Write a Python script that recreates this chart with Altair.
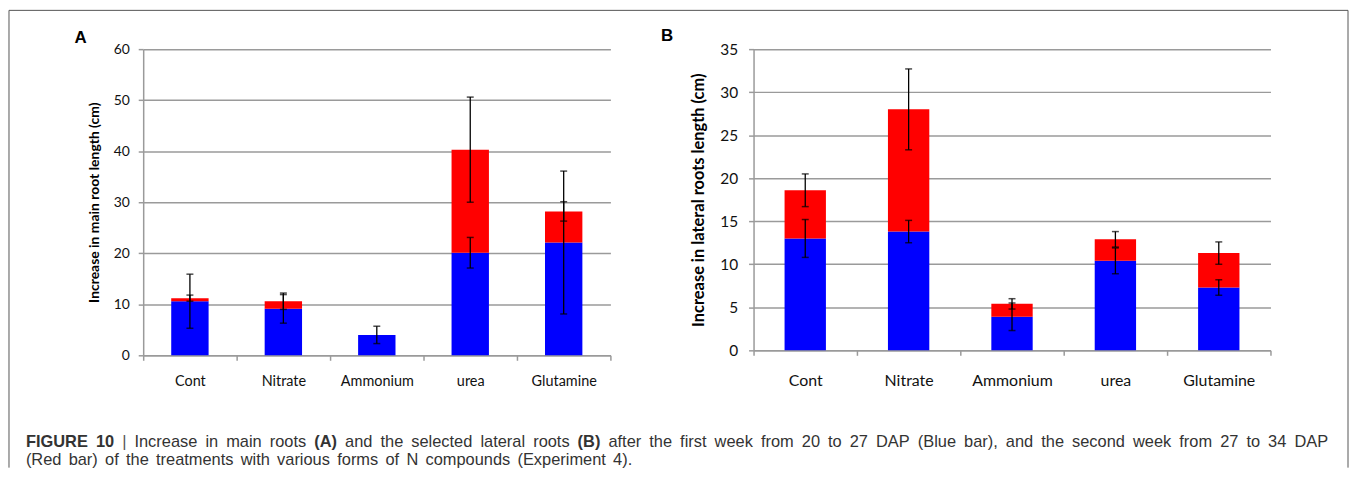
import altair as alt
import pandas as pd

# ---------------- data ----------------
categories = ["Cont", "Nitrate", "Ammonium", "urea", "Glutamine"]
series_names = ["Week 1 (20-27 DAP)", "Week 2 (27-34 DAP)"]

# Panel A: increase in main root length (cm)
a_week1 = [10.6, 9.1, 4.0, 20.1, 22.1]
a_week2 = [0.6, 1.5, 0.0, 20.2, 6.1]
a_week1_err = [5.3, 2.8, 1.7, 3.0, 14.0]
a_week2_err = [0.6, 1.6, 0.0, 10.3, 1.9]

# Panel B: increase in lateral roots length (cm)
b_week1 = [13.0, 13.8, 3.9, 10.4, 7.3]
b_week2 = [5.6, 14.2, 1.5, 2.5, 4.0]
b_week1_err = [2.2, 1.3, 1.6, 1.5, 0.9]
b_week2_err = [1.9, 4.7, 0.6, 0.9, 1.3]

a_title = "Increase in main root length (cm)"
b_title = "Increase in lateral roots length (cm)"

caption_line1 = ("FIGURE 10 | Increase in main roots (A) and the selected lateral roots (B) "
                 "after the first week from 20 to 27 DAP (Blue bar), and the second week "
                 "from 27 to 34 DAP")
caption_line2 = "(Red bar) of the treatments with various forms of N compounds (Experiment 4)."
caption_bold_words = ["FIGURE", "10", "(A)", "(B)"]

BLUE = "#0000FF"
RED = "#FF0000"
GRID = "#9a9a9a"
FONT = "Lato"
CAPFONT = "Liberation Sans"

# Arial / Liberation Sans advance widths (1/1000 em) used to lay out the caption words
_REG = {" ": 278, "(": 333, ")": 333, ",": 278, ".": 278, "|": 260, "-": 333}
_REG.update({d: 556 for d in "0123456789"})
_REG.update(dict(zip("ABCDEFGHIJKLMNOPQRSTUVWXYZ",
                     [667, 667, 722, 722, 667, 611, 778, 722, 278, 500, 667, 556, 833,
                      722, 778, 667, 778, 722, 667, 611, 722, 667, 944, 667, 667, 611])))
_REG.update(dict(zip("abcdefghijklmnopqrstuvwxyz",
                     [556, 556, 500, 556, 556, 278, 556, 556, 222, 222, 500, 222, 833,
                      556, 556, 556, 556, 333, 500, 278, 556, 500, 722, 500, 500, 500])))
_BOLD = dict(_REG)
_BOLD.update({"A": 722, "B": 722, "C": 722, "E": 667, "F": 611, "G": 778, "I": 278,
              "R": 722, "U": 722})


def word_width(w, bold, fs):
    table = _BOLD if bold else _REG
    return sum(table.get(ch, 556) for ch in w) * fs / 1000.0


def build_frames(w1, w2, e1, e2):
    bars, errs = [], []
    for c, v1, v2, d1, d2 in zip(categories, w1, w2, e1, e2):
        bars.append({"cat": c, "series": series_names[0], "start": 0.0, "end": v1})
        bars.append({"cat": c, "series": series_names[1], "start": v1, "end": v1 + v2})
        if d1 > 0:
            errs.append({"cat": c, "low": v1 - d1, "high": v1 + d1})
        if d2 > 0:
            errs.append({"cat": c, "low": v1 + v2 - d2, "high": v1 + v2 + d2})
    return pd.DataFrame(bars), pd.DataFrame(errs)


def one_text(txt, x, y, size, weight="normal", align="left", font=FONT, color="#000000"):
    return alt.Chart(pd.DataFrame({"t": [txt]})).mark_text(
        align=align, baseline="alphabetic", font=font, fontSize=size,
        fontWeight=weight, color=color,
    ).encode(text="t:N", x=alt.value(x), y=alt.value(y))


def text_line(line, x0, x1, y, fs, color):
    """Lay the words of one caption line out from x0 to x1 (justified)."""
    words = line.split(" ")
    bold = [w in caption_bold_words for w in words]
    widths = [word_width(w, b, fs) for w, b in zip(words, bold)]
    gap = (x1 - x0 - sum(widths)) / (len(words) - 1)
    out, x = [], x0
    for w, b, wd in zip(words, bold, widths):
        col = "#555555" if w == "|" else color
        out.append(one_text(w, round(x, 1), y, fs, "bold" if b else "normal",
                            font=CAPFONT, color=col))
        x += wd + gap
    return out


def panel(w1, w2, e1, e2, ymax, step, ytitle, width, height,
          tick_fs, xlab_fs, title_fs, xlab_pad, ylab_pad, title_x):
    bars_df, err_df = build_frames(w1, w2, e1, e2)
    x_enc = alt.X(
        "cat:N", sort=categories,
        scale=alt.Scale(paddingInner=0, paddingOuter=0),
        axis=alt.Axis(title=None, labelAngle=0, tickBand="extent", grid=False,
                      labelFontSize=xlab_fs, labelPadding=xlab_pad, labelFont=FONT),
    )
    y_scale = alt.Scale(domain=[0, ymax], nice=False)
    y_axis = alt.Axis(
        values=list(range(0, ymax + 1, step)), grid=True, title=ytitle,
        titleFont=FONT, titleFontSize=title_fs, titleFontWeight="bold",
        titleColor="#000000", titleAngle=270, titleX=title_x, titleY=height / 2,
        titleAlign="center", titleBaseline="middle",
        labelFontSize=tick_fs, labelPadding=ylab_pad, labelFont=FONT,
    )
    bars = alt.Chart(bars_df).mark_bar(width=alt.RelativeBandSize(0.4)).encode(
        x=x_enc,
        y=alt.Y("start:Q", scale=y_scale, axis=y_axis),
        y2="end:Q",
        color=alt.Color("series:N", scale=alt.Scale(domain=series_names, range=[BLUE, RED]), legend=None),
    )
    rules = alt.Chart(err_df).mark_rule(color="#000000", strokeWidth=1.3).encode(
        x=alt.X("cat:N", sort=categories), y="low:Q", y2="high:Q")
    cap_lo = alt.Chart(err_df).mark_tick(color="#000000", thickness=1.5, size=7).encode(
        x=alt.X("cat:N", sort=categories), y="low:Q")
    cap_hi = alt.Chart(err_df).mark_tick(color="#000000", thickness=1.5, size=7).encode(
        x=alt.X("cat:N", sort=categories), y="high:Q")
    return [bars, rules, cap_lo, cap_hi]


a_layers = panel(a_week1, a_week2, a_week1_err, a_week2_err, 60, 10, a_title, 470, 308,
                 14, 14.5, 14, 14, 9, -49)
b_layers = panel(b_week1, b_week2, b_week1_err, b_week2_err, 35, 5, b_title, 520, 303,
                 15.5, 16, 16.5, 17, 11, -55)

# frame around the figure (three sides) and annotations, placed relative to panel A
zero = pd.DataFrame({"z": [0]})
frame_left = alt.Chart(zero).mark_rule(color="#555555", strokeWidth=1).encode(
    x=alt.value(-135), y=alt.value(-39), y2=alt.value(421))
frame_right = alt.Chart(zero).mark_rule(color="#555555", strokeWidth=1).encode(
    x=alt.value(1212), y=alt.value(-39), y2=alt.value(421))
frame_top = alt.Chart(zero).mark_rule(color="#555555", strokeWidth=1).encode(
    x=alt.value(-135), x2=alt.value(1212), y=alt.value(-39))

label_a = one_text("A", -69, -6, 17, "bold", font=CAPFONT)
label_b = one_text("B", -93, -8, 17, "bold", font=CAPFONT)

CAPC = "#333333"
CS = 16.5
caption = (text_line(caption_line1, -118, 1192, 400, CS, CAPC)
           + text_line(caption_line2, -118, 492, 418, CS, CAPC))

chart_a = alt.layer(*a_layers, frame_left, frame_right, frame_top, label_a, *caption).properties(
    width=470, height=308)
chart_b = alt.layer(*b_layers, label_b).properties(width=520, height=303)

chart = alt.hconcat(chart_a, chart_b, spacing=144, bounds="flush").properties(
    padding=0, background="white"
).configure_view(stroke=None).configure_axis(
    domainColor=GRID, domainWidth=1.5, tickColor=GRID, tickWidth=1.5, tickSize=5,
    gridColor=GRID, gridWidth=1.5, labelColor="#111111",
)

chart.save("out.html", embed_options={"renderer": "svg", "actions": False})
